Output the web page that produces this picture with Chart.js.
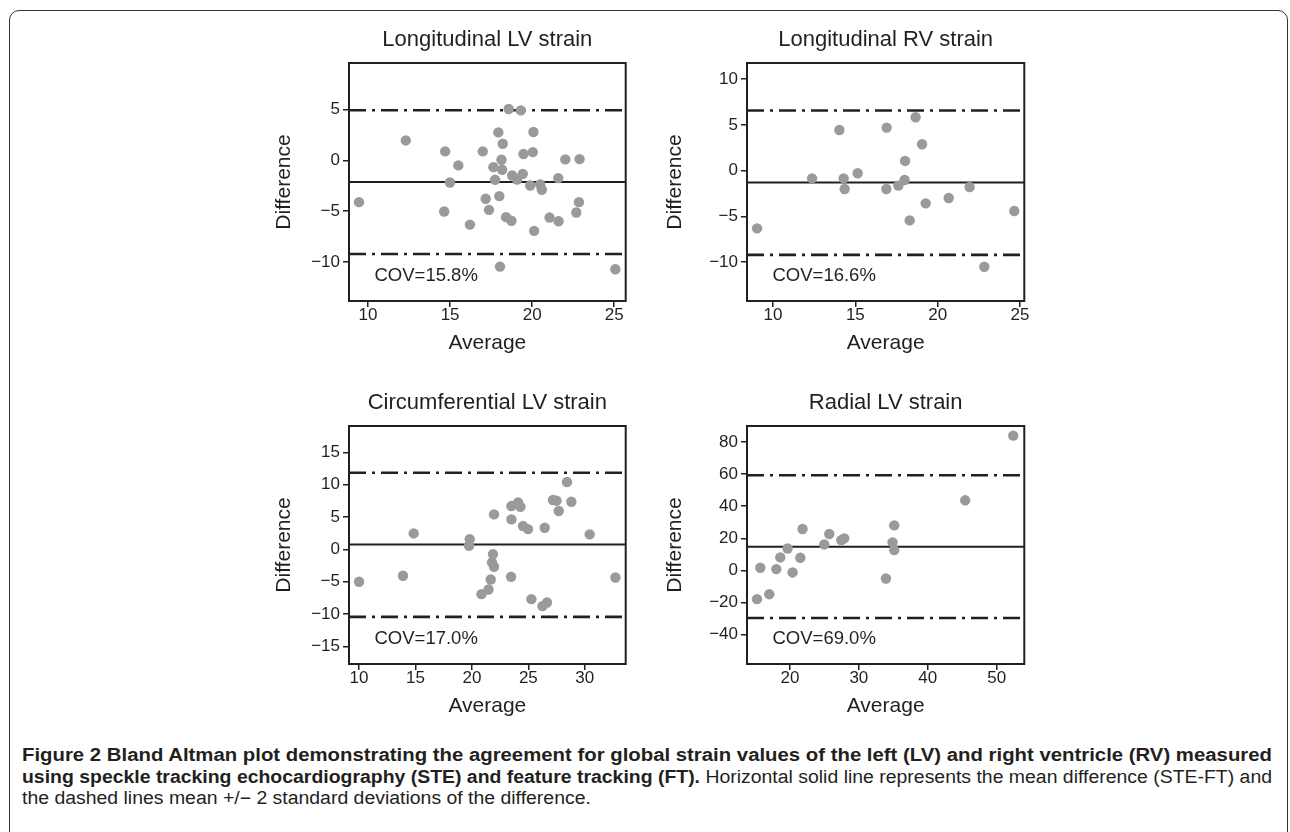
<!DOCTYPE html>
<html><head><meta charset="utf-8">
<script src="https://cdn.jsdelivr.net/npm/chart.js@4.4.1/dist/chart.umd.min.js"></script>
<style>
html,body{margin:0;padding:0;background:#fff;width:1290px;height:832px;overflow:hidden;position:relative;}
#frame{position:absolute;left:9px;top:10px;width:1279px;height:850px;border:1.5px solid #333;border-radius:10px;box-sizing:border-box;}
canvas{position:absolute;}
.cap{position:absolute;left:22px;white-space:nowrap;font-family:"Liberation Sans",Arial,sans-serif;font-size:18px;color:#231f20;line-height:21px;transform-origin:0 50%;}
.cap b{font-weight:bold;}
</style></head><body>
<div id="frame"></div>
<canvas id="c1"></canvas>
<canvas id="c2"></canvas>
<canvas id="c3"></canvas>
<canvas id="c4"></canvas>
<div class="cap" id="l1" style="top:745px"><b>Figure 2 Bland Altman plot demonstrating the agreement for global strain values of the left (LV) and right ventricle (RV) measured</b></div>
<div class="cap" id="l2" style="top:767px"><b>using speckle tracking echocardiography (STE) and feature tracking (FT).</b> Horizontal solid line represents the mean difference (STE-FT) and</div>
<div class="cap" id="l3" style="top:788px">the dashed lines mean +/− 2 standard deviations of the difference.</div>
<script>
// ---------- DATA ----------
const titles = ["Longitudinal LV strain", "Longitudinal RV strain", "Circumferential LV strain", "Radial LV strain"];
const covLabels = ["COV=15.8%", "COV=16.6%", "COV=17.0%", "COV=69.0%"];

const lvLongAvg  = [9.45,12.30,14.70,15.50,14.99,14.64,16.21,16.99,17.64,17.94,18.21,18.13,18.17,17.74,18.00,17.17,17.37,18.41,18.74,18.57,19.31,18.78,19.08,19.43,19.47,20.08,20.04,19.88,20.49,20.59,20.12,21.06,21.61,21.59,22.02,22.89,22.85,22.69,18.04,25.07];
const lvLongDiff = [-4.11,1.97,0.89,-0.49,-2.17,-5.03,-6.32,0.89,-0.66,2.76,1.64,0.07,-0.92,-1.91,-3.52,-3.78,-4.87,-5.59,-5.95,5.07,4.93,-1.48,-1.88,-1.32,0.63,2.80,0.82,-2.47,-2.37,-2.89,-6.94,-5.63,-5.99,-1.74,0.10,0.13,-4.11,-5.13,-10.46,-10.72];
const lvLongStats = [-2.13, 4.95, -9.22];   // mean, mean+2SD, mean-2SD

const rvLongAvg  = [9.03,12.37,14.03,14.29,14.35,15.14,16.90,16.88,17.61,17.99,18.02,18.66,19.05,18.30,19.27,20.67,21.94,22.83,24.65];
const rvLongDiff = [-6.30,-0.84,4.44,-0.84,-2.00,-0.29,4.70,-2.00,-1.64,-1.02,1.06,5.83,2.88,-5.43,-3.57,-2.99,-1.79,-10.49,-4.40];
const rvLongStats = [-1.30, 6.56, -9.20];

const lvCircAvg  = [10.01,13.90,14.85,19.81,19.75,21.96,21.87,21.78,21.96,21.67,21.47,20.85,23.50,23.50,24.09,24.30,24.53,24.97,23.47,25.27,26.25,26.65,26.45,27.18,27.49,27.69,28.42,28.81,30.43,32.71];
const lvCircDiff = [-5.00,-4.07,2.47,1.60,0.57,5.41,-0.72,-2.01,-2.68,-4.64,-6.19,-6.91,4.64,6.70,7.27,6.60,3.61,3.14,-4.23,-7.68,-8.76,-8.20,3.35,7.63,7.53,5.93,10.41,7.37,2.32,-4.33];
const lvCircStats = [0.75, 11.85, -10.42];

const lvRadAvg  = [15.23,15.71,17.01,18.03,18.61,19.67,20.39,21.51,21.84,24.99,25.71,27.45,27.89,33.93,35.14,34.89,35.14,45.43,52.4];
const lvRadDiff = [-17.9,1.66,-14.8,0.83,8.1,13.7,-1.25,7.9,25.8,16.2,22.7,18.9,20.0,-5.0,28.1,17.5,12.7,43.7,84.0];
const lvRadStats = [14.8, 59.3, -29.6];

const xTickVals = [[10,15,20,25],[10,15,20,25],[10,15,20,25,30],[20,30,40,50]];
const yTickVals = [[-10,-5,0,5],[-10,-5,0,5,10],[-15,-10,-5,0,5,10,15],[-40,-20,0,20,40,60,80]];
const xLimits = [[8.84,25.7],[8.42,25.26],[9.12,33.62],[13.78,54.0]];
const yLimits = [[-13.85,9.6],[-14.23,11.75],[-17.7,19.07],[-58.3,90.0]];

// ---------- LAYOUT ----------
const FONT = "'Liberation Sans', Arial, Helvetica, sans-serif";
const INK = '#231f20';
const areas = [
  {l:349.3, t:63.3, r:626, b:301, yTitleOff:64.3},
  {l:746.7, t:63.3, r:1024, b:301, yTitleOff:71.7},
  {l:349.3, t:426, r:626, b:663.7, yTitleOff:64.3},
  {l:746.7, t:426, r:1024, b:663.7, yTitleOff:71.7}
];
const PADL = 110, PADT = 63, PADR = 20, PADB = 62;

const series = [
  [lvLongAvg, lvLongDiff, lvLongStats],
  [rvLongAvg, rvLongDiff, rvLongStats],
  [lvCircAvg, lvCircDiff, lvCircStats],
  [lvRadAvg, lvRadDiff, lvRadStats]
];

const boxPlugin = {
  id: 'box',
  afterDatasetsDraw(chart, args, opts) {
    const {ctx, chartArea: a} = chart;
    ctx.save();
    ctx.strokeStyle = INK; ctx.lineWidth = 2;
    ctx.strokeRect(a.left, a.top, a.right - a.left, a.bottom - a.top);
    ctx.fillStyle = INK;
    ctx.font = '18.5px ' + FONT;
    ctx.textBaseline = 'middle'; ctx.textAlign = 'left';
    ctx.fillText(opts.text, a.left + 25.5, a.bottom - 25);
    ctx.restore();
  }
};

function fmt(v){ return String(v).replace('-', '\u2212'); }

series.forEach((s, i) => {
  const a = areas[i];
  const cv = document.getElementById('c' + (i + 1));
  const w = (a.r - a.l) + PADL + PADR, h = (a.b - a.t) + PADT + PADB;
  cv.width = Math.round(w); cv.height = Math.round(h);
  cv.style.left = (a.l - PADL) + 'px'; cv.style.top = (a.t - PADT) + 'px';
  cv.style.width = Math.round(w) + 'px'; cv.style.height = Math.round(h) + 'px';
  const [xs, ys, st] = s;
  const [xmin, xmax] = xLimits[i];
  const pts = xs.map((x, k) => ({x, y: ys[k]}));
  const hline = (v, dash, lw) => ({
    type: 'scatter', showLine: true, data: [{x: xmin, y: v}, {x: xmax, y: v}],
    borderColor: INK, borderWidth: lw, borderDash: dash, pointRadius: 0, order: 2, fill: false
  });
  new Chart(cv, {
    type: 'scatter',
    data: {
      datasets: [
        {data: pts, pointRadius: 5.2, pointBackgroundColor: '#9a9a9a', pointBorderWidth: 0, borderWidth: 0, order: 0},
        hline(st[0], [], 2),
        hline(st[1], [17, 6, 3, 6], 2.6),
        hline(st[2], [17, 6, 3, 6], 2.6)
      ]
    },
    options: {
      responsive: false, animation: false, devicePixelRatio: 1,
      layout: {padding: {left: 0, top: 0, right: Math.round(w) - PADL - (a.r - a.l), bottom: 0}},
      plugins: {
        legend: {display: false}, tooltip: {enabled: false},
        title: {display: true, text: titles[i], color: INK, fullSize: false,
          font: {family: FONT, size: 22, weight: 'normal', lineHeight: 1.2},
          padding: {top: 26.3, bottom: PADT - 26.3 - 26.4}},
        box: {text: covLabels[i]}
      },
      scales: {
        x: {
          type: 'linear', position: 'bottom', min: xmin, max: xmax,
          afterBuildTicks: sc => { sc.ticks = xTickVals[i].map(v => ({value: v})); },
          afterFit: sc => { sc.height = PADB; sc.paddingLeft = 0; sc.paddingRight = 0; },
          grid: {display: true, drawOnChartArea: false, drawTicks: true, tickLength: 6, color: INK, lineWidth: 1.5},
          border: {display: false},
          ticks: {color: INK, padding: 0, font: {family: FONT, size: 17, lineHeight: 1}, maxRotation: 0, autoSkip: false, callback: v => fmt(v)},
          title: {display: true, text: 'Average', color: INK, font: {family: FONT, size: 21, lineHeight: 1.2}, padding: {top: 0, bottom: 7.6}}
        },
        y: {
          type: 'linear', position: 'left', min: yLimits[i][0], max: yLimits[i][1],
          afterBuildTicks: sc => { sc.ticks = yTickVals[i].map(v => ({value: v})); },
          afterFit: sc => { sc.width = PADL; sc.paddingTop = 0; sc.paddingBottom = 0; },
          grid: {display: true, drawOnChartArea: false, drawTicks: true, tickLength: 6, color: INK, lineWidth: 1.5},
          border: {display: false},
          ticks: {color: INK, padding: 3, font: {family: FONT, size: 17, lineHeight: 1.2}, autoSkip: false, callback: v => fmt(v)},
          title: {display: true, text: 'Difference', color: INK, font: {family: FONT, size: 21, lineHeight: 1.2}, padding: {top: PADL - a.yTitleOff - 12.6, bottom: 0}}
        }
      }
    },
    plugins: [boxPlugin]
  });
});

// fit caption lines to the measured widths by horizontal scaling
(function(){
  const l1 = document.getElementById('l1'), l2 = document.getElementById('l2'), l3 = document.getElementById('l3');
  const s1 = 1250 / l1.getBoundingClientRect().width;
  const s2 = 1250 / l2.getBoundingClientRect().width;
  l1.style.transform = 'scaleX(' + s1 + ')';
  l2.style.transform = 'scaleX(' + s2 + ')';
  l3.style.transform = 'scaleX(' + s2 + ')';
})();
</script>
</body></html>
